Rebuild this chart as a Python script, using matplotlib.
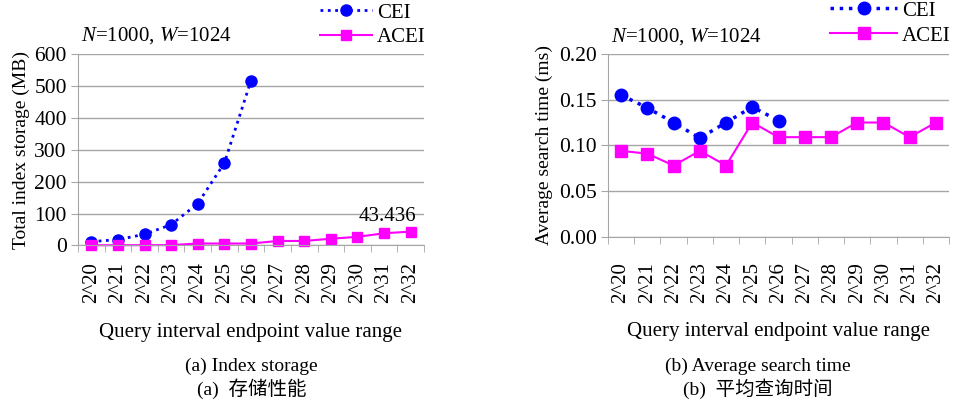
import matplotlib.pyplot as plt

plt.rcParams['font.family'] = ['Liberation Serif', 'Noto Sans CJK SC']
plt.rcParams['mathtext.fontset'] = 'custom'
plt.rcParams['mathtext.rm'] = 'Liberation Serif'
plt.rcParams['mathtext.it'] = 'Liberation Serif:italic'

# 数据
categories = ['2^20', '2^21', '2^22', '2^23', '2^24', '2^25', '2^26',
              '2^27', '2^28', '2^29', '2^30', '2^31', '2^32']
cei_storage = [12, 18, 35, 65, 131, 258, 516]
acei_storage = [0.5, 0.6, 0.8, 1.0, 6, 6, 6, 14, 14, 21, 27, 38, 43.436]
cei_time = [0.155, 0.141, 0.125, 0.108, 0.125, 0.142, 0.127]
acei_time = [0.094, 0.091, 0.078, 0.094, 0.078, 0.125, 0.109,
             0.109, 0.109, 0.125, 0.125, 0.109, 0.125]

blue = '#0000ff'
magenta = '#ff00ff'
grid_c = '#a6a6a6'

fig = plt.figure(figsize=(9.59, 4.05), dpi=100)
ax1 = fig.add_axes([0.0813, 0.394, 0.3608, 0.473])
ax2 = fig.add_axes([0.634, 0.415, 0.3556, 0.452])


def style_axes(ax, yticks, fmt, xpad, lpad):
    n = len(categories)
    x = list(range(n))
    ax.set_xlim(-0.5, n - 0.5)
    ax.set_ylim(yticks[0], yticks[-1])
    ax.set_yticks(yticks)
    ax.set_yticklabels([fmt.format(v) for v in yticks], fontsize=15.5)
    ax.set_xticks(x)
    ax.set_xticklabels(categories, rotation=90, fontsize=15)
    ax.tick_params(axis='x', length=0, pad=xpad)
    # 类别之间的刻度线
    ax.set_xticks([i - 0.5 for i in range(n + 1)], minor=True)
    ax.tick_params(axis='x', which='minor', length=5, color=grid_c)
    ax.tick_params(axis='y', length=5, color=grid_c, pad=3)
    ax.yaxis.grid(True, color=grid_c, linewidth=1)
    ax.set_axisbelow(True)
    for s in ['top', 'right']:
        ax.spines[s].set_visible(False)
    for s in ['left', 'bottom']:
        ax.spines[s].set_color(grid_c)
    ax.set_xlabel('Query interval endpoint value range', fontsize=15, labelpad=lpad)
    ax.text(0.01, 1.04, r'$N$=1000, $W$=1024', transform=ax.transAxes,
            fontsize=15, va='bottom', ha='left')


# (a) 存储
style_axes(ax1, [0, 100, 200, 300, 400, 500, 600], '{:d}', 12, 14)
ax1.plot(range(len(cei_storage)), cei_storage, ':', color=blue, lw=2,
         marker='o', ms=8, label='CEI', clip_on=False)
ax1.plot(range(len(acei_storage)), acei_storage, '-', color=magenta, lw=1.5,
         marker='s', ms=7, label='ACEI', clip_on=False)
ax1.set_ylabel('Total index storage (MB)', fontsize=14, labelpad=3)
ax1.annotate('43.436', xy=(len(acei_storage) - 1, acei_storage[-1]),
             xytext=(4, 4), textcoords='offset points', ha='right',
             va='bottom', fontsize=15)
ax1.legend(loc='lower right', bbox_to_anchor=(1.03, 0.99), frameon=False,
           fontsize=15, handlelength=2.5, borderaxespad=0, labelspacing=0.25,
           handletextpad=0.25)

# (b) 查询时间
style_axes(ax2, [0.0, 0.05, 0.10, 0.15, 0.20], '{:.2f}', 18, 14)
ax2.plot(range(len(cei_time)), cei_time, ':', color=blue, lw=2.5,
         marker='o', ms=9, label='CEI', clip_on=False)
ax2.plot(range(len(acei_time)), acei_time, '-', color=magenta, lw=1.5,
         marker='s', ms=9, label='ACEI', clip_on=False)
ax2.set_ylabel('Average search time (ms)', fontsize=14, labelpad=4)
ax2.legend(loc='lower right', bbox_to_anchor=(1.03, 1.0), frameon=False,
           fontsize=15, handlelength=3.2, borderaxespad=0, labelspacing=0.25,
           handletextpad=0.25)

# 子图标题
fig.text(0.262, 0.096, '(a) Index storage', ha='center', va='center', fontsize=14)
fig.text(0.262, 0.040, '(a)  存储性能', ha='center', va='center', fontsize=14)
fig.text(0.790, 0.096, '(b) Average search time', ha='center', va='center', fontsize=14)
fig.text(0.790, 0.040, '(b)  平均查询时间', ha='center', va='center', fontsize=14)

plt.savefig('out.png', dpi=100, facecolor='white')
plt.close()
